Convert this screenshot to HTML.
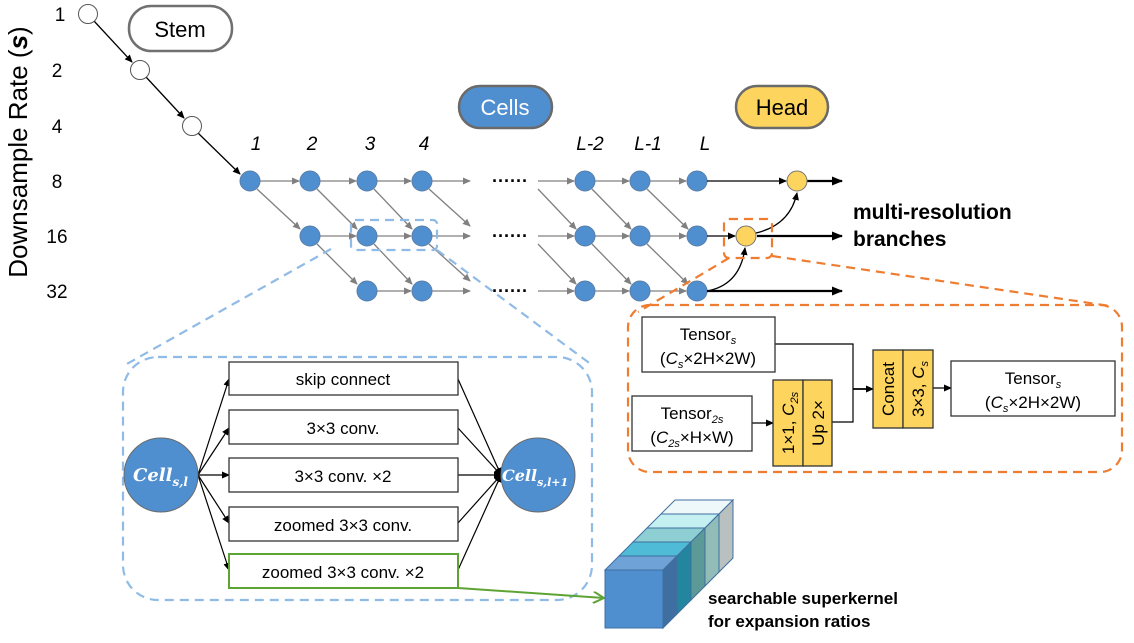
<!DOCTYPE html>
<html><head><meta charset="utf-8"><style>
html,body{margin:0;padding:0;background:#fff}
svg{display:block;font-family:"Liberation Sans",sans-serif}
</style></head><body>
<svg width="1134" height="643" viewBox="0 0 1134 643" xmlns="http://www.w3.org/2000/svg">
<defs>
<marker id="ag" markerWidth="8" markerHeight="8" refX="7" refY="4" orient="auto" markerUnits="userSpaceOnUse"><path d="M0,0.5 L8,4 L0,7.5z" fill="#808080"/></marker>
<marker id="ak" markerWidth="8" markerHeight="8" refX="7" refY="4" orient="auto" markerUnits="userSpaceOnUse"><path d="M0,0.5 L8,4 L0,7.5z" fill="#000"/></marker>
<marker id="ab" markerWidth="11" markerHeight="10" refX="10" refY="5" orient="auto" markerUnits="userSpaceOnUse"><path d="M0,0.5 L11,5 L0,9.5z" fill="#000"/></marker>
<marker id="agr" markerWidth="12" markerHeight="12" refX="11" refY="6" orient="auto" markerUnits="userSpaceOnUse"><path d="M0,0 L11,6 L0,12" fill="none" stroke="#5ea435" stroke-width="2"/></marker>
</defs>

<text transform="translate(27,152) rotate(-90)" font-size="26" text-anchor="middle">Downsample Rate (<tspan font-weight="bold" font-style="italic">s</tspan>)</text>
<g font-size="19" text-anchor="middle">
<text x="60" y="21">1</text><text x="57" y="77">2</text><text x="57" y="133">4</text>
<text x="57" y="188">8</text><text x="57" y="243">16</text><text x="57" y="298">32</text>
</g>

<rect x="129" y="6" width="103" height="45" rx="22" fill="#fff" stroke="#707070" stroke-width="2.5"/>
<text x="180" y="37" font-size="22" text-anchor="middle">Stem</text>
<g stroke="#000" stroke-width="1.3" marker-end="url(#ak)">
<line x1="94" y1="21" x2="132" y2="62"/>
<line x1="146" y1="77" x2="184" y2="118"/>
<line x1="198" y1="133" x2="240" y2="174"/>
</g>
<g fill="#fff" stroke="#555" stroke-width="1">
<circle cx="88" cy="14" r="9.5"/><circle cx="140" cy="70" r="9.5"/><circle cx="192" cy="126" r="9.5"/>
</g>

<rect x="459" y="86" width="93" height="42" rx="21" fill="#4f8fd0" stroke="#6a6a6a" stroke-width="2.5"/>
<text x="505" y="115" font-size="22" fill="#fff" text-anchor="middle">Cells</text>
<rect x="736" y="86" width="92" height="42" rx="21" fill="#fdd45d" stroke="#6a6a6a" stroke-width="2.5"/>
<text x="782" y="115" font-size="22" text-anchor="middle">Head</text>

<g font-size="19" font-style="italic" text-anchor="middle">
<text x="256" y="150">1</text><text x="312" y="150">2</text><text x="370" y="150">3</text><text x="424" y="150">4</text>
<text x="590" y="150">L-2</text><text x="648" y="150">L-1</text><text x="705" y="150">L</text>
</g>

<g stroke="#808080" stroke-width="1.3" marker-end="url(#ag)">
<line x1="260" y1="181" x2="299" y2="181"/><line x1="320" y1="181" x2="356" y2="181"/><line x1="377" y1="181" x2="411" y2="181"/><line x1="432" y1="181" x2="470" y2="181"/>
<line x1="320" y1="236" x2="356" y2="236"/><line x1="377" y1="236" x2="411" y2="236"/><line x1="432" y1="236" x2="470" y2="236"/>
<line x1="377" y1="291" x2="411" y2="291"/><line x1="432" y1="291" x2="470" y2="291"/>
<line x1="538" y1="181" x2="574" y2="181"/><line x1="595" y1="181" x2="629" y2="181"/><line x1="650" y1="181" x2="686" y2="181"/>
<line x1="538" y1="236" x2="574" y2="236"/><line x1="595" y1="236" x2="629" y2="236"/><line x1="650" y1="236" x2="686" y2="236"/>
<line x1="538" y1="291" x2="574" y2="291"/><line x1="595" y1="291" x2="629" y2="291"/><line x1="650" y1="291" x2="686" y2="291"/>
<line x1="257" y1="189" x2="300" y2="229"/><line x1="317" y1="189" x2="357" y2="229"/><line x1="374" y1="189" x2="412" y2="229"/><line x1="429" y1="189" x2="470" y2="226"/>
<line x1="317" y1="244" x2="357" y2="284"/><line x1="374" y1="244" x2="412" y2="284"/><line x1="429" y1="244" x2="470" y2="281"/>
<line x1="538" y1="189" x2="576" y2="229"/><line x1="592" y1="189" x2="631" y2="229"/><line x1="647" y1="189" x2="688" y2="229"/>
<line x1="538" y1="244" x2="576" y2="284"/><line x1="592" y1="244" x2="631" y2="284"/><line x1="647" y1="244" x2="688" y2="284"/>
</g>
<g font-size="18" font-weight="bold" text-anchor="middle">
<text x="510" y="187">······</text><text x="510" y="242">······</text><text x="510" y="297">······</text>
</g>

<g fill="#4f8fd0" stroke="#5a7fa8" stroke-width="1">
<circle cx="250" cy="181" r="10"/><circle cx="310" cy="181" r="10"/><circle cx="367" cy="181" r="10"/><circle cx="422" cy="181" r="10"/>
<circle cx="310" cy="236" r="10"/><circle cx="367" cy="236" r="10"/><circle cx="422" cy="236" r="10"/>
<circle cx="367" cy="291" r="10"/><circle cx="422" cy="291" r="10"/>
<circle cx="585" cy="181" r="10"/><circle cx="640" cy="181" r="10"/><circle cx="697" cy="181" r="10"/>
<circle cx="585" cy="236" r="10"/><circle cx="640" cy="236" r="10"/><circle cx="697" cy="236" r="10"/>
<circle cx="585" cy="291" r="10"/><circle cx="640" cy="291" r="10"/><circle cx="697" cy="291" r="10"/>
</g>

<line x1="707" y1="181" x2="786" y2="181" stroke="#000" stroke-width="1.3" marker-end="url(#ak)"/>
<line x1="707" y1="236" x2="735" y2="236" stroke="#000" stroke-width="1.3" marker-end="url(#ak)"/>
<path d="M707,291 Q740,285 745,248" fill="none" stroke="#000" stroke-width="1.3" marker-end="url(#ak)"/>
<path d="M756,233 Q790,225 797,193" fill="none" stroke="#000" stroke-width="1.3" marker-end="url(#ak)"/>
<g stroke="#000" stroke-width="2.2" marker-end="url(#ab)">
<line x1="807" y1="181" x2="842" y2="181"/>
<line x1="757" y1="236" x2="842" y2="236"/>
<line x1="707" y1="291" x2="842" y2="291"/>
</g>
<circle cx="797" cy="181" r="10" fill="#fdd45d" stroke="#777"/>
<circle cx="746" cy="236" r="10" fill="#fdd45d" stroke="#777"/>
<text x="853" y="219" font-size="21" font-weight="bold">multi-resolution</text>
<text x="853" y="246" font-size="21" font-weight="bold">branches</text>

<g fill="none" stroke="#8fbbe6" stroke-width="2.2" stroke-dasharray="9,6">
<rect x="351" y="220" width="86" height="30" rx="4"/>
<line x1="331" y1="249" x2="125" y2="365"/>
<line x1="437" y1="250" x2="592" y2="365"/>
<rect x="123" y="357" width="469" height="243" rx="35"/>
</g>

<g stroke="#000" stroke-width="1.2" marker-end="url(#ak)">
<line x1="198" y1="475" x2="229" y2="379"/>
<line x1="198" y1="475" x2="229" y2="428"/>
<line x1="198" y1="475" x2="229" y2="475"/>
<line x1="198" y1="475" x2="229" y2="523"/>
<line x1="198" y1="475" x2="229" y2="570"/>
<line x1="458" y1="379" x2="501" y2="475"/>
<line x1="458" y1="428" x2="501" y2="475"/>
<line x1="458" y1="475" x2="501" y2="475"/>
<line x1="458" y1="523" x2="501" y2="475"/>
<line x1="458" y1="570" x2="501" y2="475"/>
</g>
<g fill="#fff" stroke="#333" stroke-width="1.3">
<rect x="229" y="362" width="229" height="33"/>
<rect x="229" y="410" width="229" height="34"/>
<rect x="229" y="458" width="229" height="34"/>
<rect x="229" y="507" width="229" height="34"/>
</g>
<rect x="229" y="554" width="229" height="34" fill="#fff" stroke="#5ea435" stroke-width="2"/>
<g font-size="17" text-anchor="middle">
<text x="343" y="385">skip connect</text>
<text x="343" y="434">3×3 conv.</text>
<text x="343" y="482">3×3 conv. ×2</text>
<text x="343" y="531">zoomed 3×3 conv.</text>
<text x="343" y="578">zoomed 3×3 conv. ×2</text>
</g>
<circle cx="161" cy="475" r="37" fill="#4f8fd0" stroke="#6a6a6a" stroke-width="1"/>
<circle cx="538" cy="475" r="37" fill="#4f8fd0" stroke="#6a6a6a" stroke-width="1"/>
<text x="133" y="481" font-family="'DejaVu Serif',serif" font-size="18" font-weight="bold" font-style="italic" fill="#fff">Cell<tspan font-size="12" dy="5">s,l</tspan></text>
<text x="502" y="481" font-family="'DejaVu Serif',serif" font-size="16" font-weight="bold" font-style="italic" fill="#fff">Cell<tspan font-size="11" dy="5">s,l+1</tspan></text>

<line x1="458" y1="588" x2="604" y2="598" stroke="#5ea435" stroke-width="2" marker-end="url(#agr)"/>

<g stroke="#3f6fa0" stroke-width="1">
<polygon points="661,514 719,514 733,500 675,500" fill="#eef7fa"/>
<polygon points="719,514 733,500 733,558 719,572" fill="#b8c0c0"/>
<polygon points="647,528 705,528 719,514 661,514" fill="#c5f0f2"/>
<polygon points="705,528 719,514 719,572 705,586" fill="#92bcb8"/>
<polygon points="633,542 691,542 705,528 647,528" fill="#8ecfd4"/>
<polygon points="691,542 705,528 705,586 691,600" fill="#5c9a97"/>
<polygon points="619,556 677,556 691,542 633,542" fill="#4fbbd6"/>
<polygon points="677,556 691,542 691,600 677,614" fill="#23869e"/>
<polygon points="605,570 663,570 677,556 619,556" fill="#6fa2d6"/>
<polygon points="663,570 677,556 677,614 663,628" fill="#3f6fa0"/>
<rect x="605" y="570" width="58" height="58" fill="#4f8fd0"/>
</g>
<text x="708" y="604" font-size="17" font-weight="bold">searchable superkernel</text>
<text x="708" y="627" font-size="17" font-weight="bold">for expansion ratios</text>

<g fill="none" stroke="#ee7d31" stroke-width="2.2" stroke-dasharray="9,6">
<rect x="724" y="219" width="48" height="39" rx="5"/>
<line x1="729" y1="258" x2="638" y2="312"/>
<line x1="772" y1="256" x2="1110" y2="306"/>
<rect x="628" y="305" width="494" height="167" rx="22"/>
</g>

<g stroke="#000" stroke-width="1.2" fill="none">
<polyline points="775,344 853,344 853,422 832,422"/>
<line x1="853" y1="389" x2="873" y2="389" marker-end="url(#ak)" stroke-width="1.8"/>
<line x1="752" y1="423" x2="773" y2="423" marker-end="url(#ak)"/>
<line x1="933" y1="388" x2="951" y2="388" marker-end="url(#ak)"/>
</g>
<g fill="#fff" stroke="#333" stroke-width="1.3">
<rect x="642" y="317" width="133" height="55"/>
<rect x="632" y="396" width="120" height="55"/>
<rect x="951" y="361" width="164" height="55"/>
</g>
<g fill="#fdd45d" stroke="#333" stroke-width="1.3">
<rect x="773" y="380" width="30" height="86"/><rect x="803" y="380" width="29" height="86"/>
<rect x="873" y="350" width="30" height="78"/><rect x="903" y="350" width="30" height="78"/>
</g>
<g font-size="17" text-anchor="middle">
<text x="708" y="340">Tensor<tspan font-size="11" font-style="italic" dy="4">s</tspan></text>
<text x="708" y="364">(<tspan font-style="italic">C<tspan font-size="11" dy="4">s</tspan></tspan><tspan dy="-4">×2H×2W)</tspan></text>
<text x="692" y="419">Tensor<tspan font-size="11" font-style="italic" dy="4">2s</tspan></text>
<text x="692" y="443">(<tspan font-style="italic">C<tspan font-size="11" dy="4">2s</tspan></tspan><tspan dy="-4">×H×W)</tspan></text>
<text x="1033" y="384">Tensor<tspan font-size="11" font-style="italic" dy="4">s</tspan></text>
<text x="1033" y="408">(<tspan font-style="italic">C<tspan font-size="11" dy="4">s</tspan></tspan><tspan dy="-4">×2H×2W)</tspan></text>
<text transform="translate(794,423) rotate(-90)">1×1, <tspan font-style="italic">C<tspan font-size="11" dy="4">2s</tspan></tspan></text>
<text transform="translate(824,423) rotate(-90)">Up 2×</text>
<text transform="translate(894,389) rotate(-90)">Concat</text>
<text transform="translate(924,389) rotate(-90)">3×3, <tspan font-style="italic">C<tspan font-size="11" dy="4">s</tspan></tspan></text>
</g>
</svg>
</body></html>
